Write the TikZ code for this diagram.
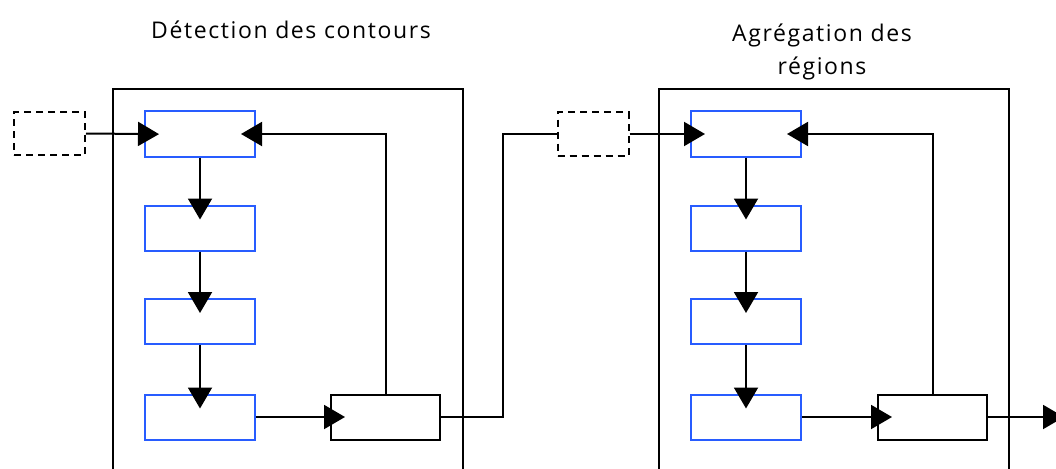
\documentclass[tikz,border=0pt]{standalone}
\usepackage{fontspec}
\setmainfont{Open Sans}
\usepackage{tikz}
\usetikzlibrary{arrows.meta,positioning,calc}
\definecolor{stageBlue}{RGB}{40,92,255}
\tikzset{
  bluebox/.style={rectangle, draw=stageBlue, line width=2pt, fill=white,
    minimum width=110pt, minimum height=45pt, inner sep=0pt},
  blackbox/.style={rectangle, draw=black, line width=2pt, fill=white,
    minimum width=109pt, minimum height=45pt, inner sep=0pt},
  ghostbox/.style={rectangle, draw=black, line width=2pt, dashed,
    dash pattern=on 7pt off 5pt, minimum width=71pt, minimum height=43pt, inner sep=0pt},
  stagebox/.style={rectangle, draw=black, line width=2pt,
    minimum width=350pt, minimum height=420pt, inner sep=0pt},
  flowArrow/.style={-{Triangle[length=21pt,width=24pt]}, line width=2pt,
    shorten >=-15pt},
  flowLine/.style={line width=2pt},
  title/.style={font=\fontsize{23}{33}\selectfont\addfontfeatures{LetterSpace=7}, align=center}
}
\begin{document}
\begin{tikzpicture}[x=1pt, y=-1pt]
  \useasboundingbox (0,0) rectangle (1056,468);
  % stage frames
  \node[stagebox, anchor=north west] (stageA) at (112,88) {};
  \node[stagebox, anchor=north west] (stageB) at (658,88) {};
  \node[title] (titleA) at (291,30) {Détection des contours};
  \node[title] (titleB) at (822,52) {Agrégation des\\régions};
  % first stage
  \node[ghostbox] (inA) at (49.5,133.5) {};
  \node[bluebox] (a1) at (200,134) {};
  \node[bluebox] (a2) at (200,228) {};
  \node[bluebox] (a3) at (200,321.5) {};
  \node[bluebox] (a4) at (200,417) {};
  \node[blackbox] (ka) at (385.5,417) {};
  % second stage
  \node[ghostbox] (inB) at (593,134) {};
  \node[bluebox] (b1) at (746,134) {};
  \node[bluebox] (b2) at (746,228) {};
  \node[bluebox] (b3) at (746,321.5) {};
  \node[bluebox] (b4) at (746,417) {};
  \node[blackbox] (kb) at (932.5,417) {};
  \coordinate (outB) at (1064,417);
  % connectors
  \draw[flowArrow] (inA.east) -- (a1.west);
  \draw[flowArrow] (a1) -- (a2);
  \draw[flowArrow] (a2) -- (a3);
  \draw[flowArrow] (a3) -- (a4);
  \draw[flowArrow] (a4) -- (ka);
  \draw[flowArrow] (ka.north) |- (a1.east);
  \draw[flowLine] (ka.east) -- ++(62,0) |- (inB.west);
  \draw[flowArrow] (inB.east) -- (b1.west);
  \draw[flowArrow] (b1) -- (b2);
  \draw[flowArrow] (b2) -- (b3);
  \draw[flowArrow] (b3) -- (b4);
  \draw[flowArrow] (b4) -- (kb);
  \draw[flowArrow] (kb.north) |- (b1.east);
  \draw[flowArrow, shorten >=0pt] (kb.east) -- (outB);
\end{tikzpicture}
\end{document}
